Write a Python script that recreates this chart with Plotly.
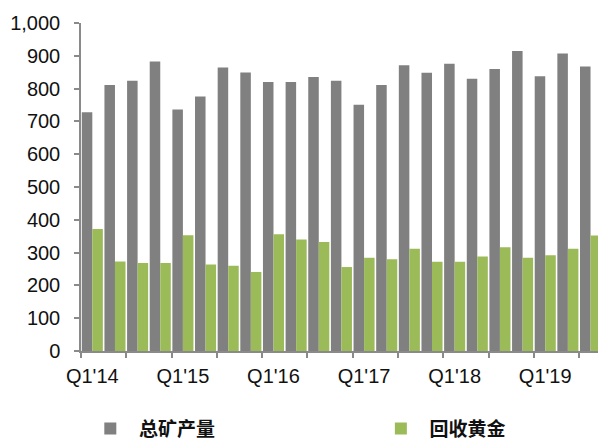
import plotly.graph_objects as go

# Quarterly gold supply, Q1'14 – Q3'19
quarters = [f"Q{q}'{y}" for y in range(14, 20) for q in range(1, 5)][:23]
mine_production = [728, 811, 824, 883, 736, 776, 864, 849, 820, 820,
                   835, 824, 751, 811, 871, 848, 876, 830, 860, 915,
                   838, 907, 867]
recycled_gold = [372, 273, 268, 268, 353, 264, 260, 241, 356, 340,
                 332, 256, 284, 280, 312, 272, 272, 288, 316, 284,
                 292, 312, 352]

series_names = ["总矿产量", "回收黄金"]
series_colors = ["#808080", "#9BBB59"]
y_ticks = list(range(0, 1001, 100))

x = list(range(len(quarters)))
label_idx = [i for i, q in enumerate(quarters) if q.startswith("Q1")]
boundary_ticks = [i - 0.5 for i in range(0, len(quarters), 2)]

legend_ids = ["legend", "legend2"]
legend_x = [0.018, 0.58]

fig = go.Figure()
for name, vals, color, lg in zip(series_names, [mine_production, recycled_gold],
                                 series_colors, legend_ids):
    fig.add_trace(go.Bar(
        x=x, y=vals, name="\u00a0\u00a0" + name, legend=lg,
        marker=dict(color=color, line=dict(width=0)),
    ))

axis_color = "#8a8a8a"
tick_font = dict(family="Liberation Sans, Arial, sans-serif", size=20, color="#111111")
legend_font = dict(family="Noto Sans CJK SC, sans-serif", size=19, color="#111111", weight="bold")


def legend_box(xpos):
    return dict(
        orientation="h", x=xpos, xanchor="left",
        y=0.028, yanchor="middle", yref="container",
        font=legend_font, bgcolor="rgba(0,0,0,0)",
        itemclick=False, itemdoubleclick=False,
    )


fig.update_layout(
    width=598, height=441,
    margin=dict(l=81, r=0, t=23, b=90),
    paper_bgcolor="white", plot_bgcolor="white",
    barmode="group", bargap=0.07, bargroupgap=0,
    showlegend=True,
    legend=legend_box(legend_x[0]),
    legend2=legend_box(legend_x[1]),
    xaxis=dict(
        range=[-0.5, 22.33],
        tickmode="array", tickvals=label_idx, ticktext=[quarters[i] for i in label_idx],
        ticks="", ticklabelstandoff=6,
        tickfont=tick_font,
        showline=True, linecolor=axis_color, linewidth=1.5,
        showgrid=False, zeroline=False,
        minor=dict(tickmode="array", tickvals=boundary_ticks, ticks="outside",
                   ticklen=5, tickwidth=1.5, tickcolor=axis_color, showgrid=False),
    ),
    yaxis=dict(
        range=[0, 1000],
        tickmode="array", tickvals=y_ticks, ticktext=[f"{v:,}" for v in y_ticks],
        ticks="outside", ticklen=5, tickwidth=1.5, tickcolor=axis_color,
        ticklabelstandoff=10,
        tickfont=tick_font,
        showline=True, linecolor=axis_color, linewidth=1.5,
        showgrid=False, zeroline=False,
    ),
)

fig.write_html("out.html")
